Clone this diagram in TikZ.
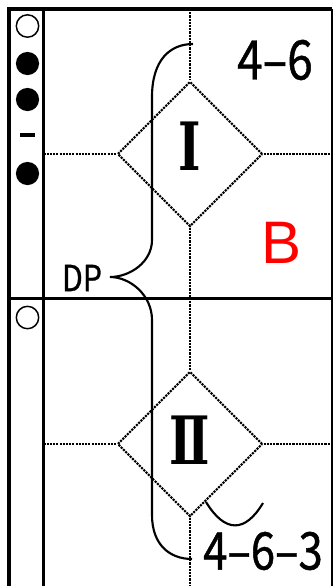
\documentclass[tikz,border=0pt]{standalone}
\usepackage{fontspec}
\newfontfamily\gothic[FakeStretch=0.84, FakeBold=0.8]{Noto Sans CJK JP}
\newfontfamily\numeral[FakeStretch=0.72]{DejaVu Serif}
\newfontfamily\arial{Liberation Sans}
\usetikzlibrary{shapes.geometric}
\begin{document}
\begin{tikzpicture}[x=0.75pt, y=-0.75pt,
  frame/.style={line width=2.4pt},
  guide/.style={line width=1.6pt, dash pattern=on 1.6pt off 0.8pt},
  cell/.style={diamond, draw, guide, minimum width=108.75pt, minimum height=108.75pt, inner sep=0pt, font=\numeral\bfseries\fontsize{50}{50}\selectfont},
  brace/.style={line width=1.6pt}]
  \useasboundingbox (0,0) rectangle (335,586);

  \node[cell] (c1) at (190,154) {\raisebox{5.5pt}[\height][\depth]{Ⅰ}};
  \node[cell] (c2) at (190,444) {\raisebox{3pt}[\height][\depth]{Ⅱ}};

  \draw[guide] (190,9) -- (c1.north);
  \draw[guide] (c1.south) -- (c2.north);
  \draw[guide] (c2.south) -- (190,586);
  \draw[guide] (43.5,154) -- (c1.west);
  \draw[guide] (c1.east) -- (332,154);
  \draw[guide] (43.5,444) -- (c2.west);
  \draw[guide] (c2.east) -- (332,444);

  \draw[frame] (9,586) -- (9,9) -- (332,9);
  \draw[line width=1.2pt] (332,9) -- (332,586);
  \draw[frame] (43.5,9) -- (43.5,586);
  \draw[frame] (9,298.5) -- (332,298.5);

  \draw[line width=1.1pt] (27.5,26) circle (8.4pt);
  \fill (27.5,63.5) circle (8.7pt);
  \fill (27.5,99.5) circle (8.7pt);
  \draw[line width=2.4pt] (20,135) -- (35,135);
  \fill (27.5,173.5) circle (8.7pt);
  \draw[line width=1.1pt] (27.5,317.5) circle (8.4pt);

  \node[font=\gothic\fontsize{41}{41}\selectfont] (top) at (275,60) {4–6};
  \node[font=\gothic\fontsize{39}{39}\selectfont] (bot) at (263,551) {4–6–3};
  \node[font=\gothic\fontsize{27}{27}\selectfont] (dp) at (82,278) {DP};
  \node[text=red, font=\arial\fontsize{45}{45}\selectfont] (b) at (282,243) {B};

  \coordinate (tip) at (110,277);
  \draw[brace] (193,44) .. controls (170,44) and (152,60) .. (152,97) -- (152,240)
    .. controls (152,262) and (130,277) .. (tip)
    .. controls (130,277) and (152,295) .. (152,320) -- (152,515)
    .. controls (152,545) and (170,559) .. (192,559);

  \draw[brace] (206,502) .. controls (225,533) and (245,533) .. (263,503);
\end{tikzpicture}
\end{document}
